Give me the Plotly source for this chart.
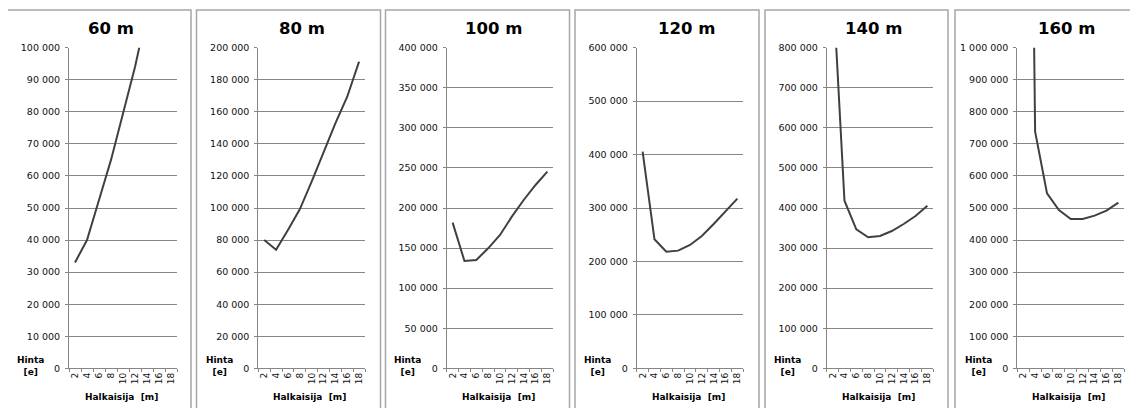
import plotly.graph_objects as go

# ---------------- data ----------------
titles = ["60 m", "80 m", "100 m", "120 m", "140 m", "160 m"]
halkaisija = [2, 4, 6, 8, 10, 12, 14, 16, 18]
tick_labels = ["2", "4", "6", "8", "10", "12", "14", "16", "18"]

hinta_60 = [33000, 40000, 52500, 65000, 79500, 94000, 111000]
hinta_80 = [80000, 74000, 86300, 99200, 116400, 135100, 152800, 169400, 191300]
hinta_100 = [181700, 133900, 135100, 149700, 166300, 189200, 210000, 228700, 245300]
hinta_120 = [405500, 241400, 218300, 220200, 230800, 247700, 270100, 293200, 317500]
hinta_140 = [970000, 418300, 346800, 326900, 330200, 342600, 360100, 380000, 405800]
hinta_160 = [3900000, 738000, 545700, 493800, 465700, 465700, 476100, 491700, 516600]

series = [hinta_60, hinta_80, hinta_100, hinta_120, hinta_140, hinta_160]
y_max = [100000, 200000, 400000, 600000, 800000, 1000000]
y_step = [10000, 20000, 50000, 100000, 100000, 100000]

# ---------------- layout geometry (pixels, in screenshot coordinates) ----------------
W, H = 1138, 408
OX, OY = 8, 8  # page body margin offset
ax_left = [69, 258.3, 446.7, 636.7, 826.7, 1017.3]
ax_right = [177, 365, 553.3, 743.3, 933.3, 1124.3]
ax_top, ax_bottom = 47.7, 368.3
boxes = [(7, 191), (196.5, 380.5), (385.5, 569.5), (575, 759), (765, 948), (955, 1135)]
title_x = [111, 302, 493, 686.7, 873, 1066.7]

def px(x):
    return (x - OX) / W

def py(y):
    return 1 - (y - OY) / H

FONT = "DejaVu Sans"
fig = go.Figure()
shapes = []
annotations = []

for i in range(6):
    n = "" if i == 0 else str(i + 1)
    xs = halkaisija[:len(series[i])]
    fig.add_trace(go.Scatter(
        x=xs, y=series[i], mode="lines",
        line=dict(color="#404040", width=2),
        xaxis="x" + n, yaxis="y" + n, showlegend=False, hoverinfo="skip",
    ))
    fig.layout["xaxis" + n] = dict(
        domain=[px(ax_left[i]), px(ax_right[i])],
        anchor="y" + n, automargin=False,
        range=[1, 19],
        tickmode="array", tickvals=halkaisija, ticktext=tick_labels,
        tickangle=-90, ticks="", showgrid=False, zeroline=False,
        showline=True, linecolor="#868686", linewidth=1,
        tickfont=dict(family=FONT, size=9, color="#101010"),
        minor=dict(tickmode="linear", tick0=1, dtick=2, ticks="outside",
                   ticklen=3, tickcolor="#868686", tickwidth=1, showgrid=False),
        fixedrange=True,
    )
    fig.layout["yaxis" + n] = dict(
        domain=[py(ax_bottom), py(ax_top)],
        anchor="x" + n, automargin=False,
        range=[0, y_max[i]], tickmode="linear", tick0=0, dtick=y_step[i],
        tickformat=",d", showgrid=True, gridcolor="#868686", gridwidth=1,
        zeroline=False, showline=True, linecolor="#868686", linewidth=1,
        ticks="outside", ticklen=3, tickcolor="#868686",
        tickfont=dict(family=FONT, size=9.5, color="#101010"),
        ticklabelstandoff=3,
        fixedrange=True,
    )
    # panel frame
    x0, x1 = boxes[i]
    shapes.append(dict(type="rect", xref="paper", yref="paper",
                       x0=px(x0), x1=px(x1), y0=py(430), y1=py(10),
                       line=dict(color="#a6a6a6", width=1.5), fillcolor="rgba(0,0,0,0)",
                       layer="below"))
    # title
    annotations.append(dict(text="<b>" + titles[i] + "</b>", xref="paper", yref="paper",
                            x=px(title_x[i]), y=py(28), xanchor="center", yanchor="middle",
                            showarrow=False, font=dict(family=FONT, size=16.5, color="#000000")))
    # y-axis label
    annotations.append(dict(text="<b>Hinta</b><br><b>[e]</b>", xref="paper", yref="paper",
                            x=px(ax_left[i] - 39), y=py(365.5), xanchor="center", yanchor="middle",
                            showarrow=False, align="center",
                            font=dict(family=FONT, size=9, color="#000000")))
    # x-axis label
    annotations.append(dict(text="<b>Halkaisija  [m]</b>", xref="paper", yref="paper",
                            x=px((ax_left[i] + ax_right[i]) / 2 - 2), y=py(397),
                            xanchor="center", yanchor="middle", showarrow=False,
                            font=dict(family=FONT, size=9, color="#000000")))

fig.update_layout(
    width=W, height=H,
    margin=dict(l=0, r=0, t=0, b=0),
    paper_bgcolor="white", plot_bgcolor="white",
    separators=". ",
    shapes=shapes, annotations=annotations,
    showlegend=False,
)

fig.write_html("out.html")
